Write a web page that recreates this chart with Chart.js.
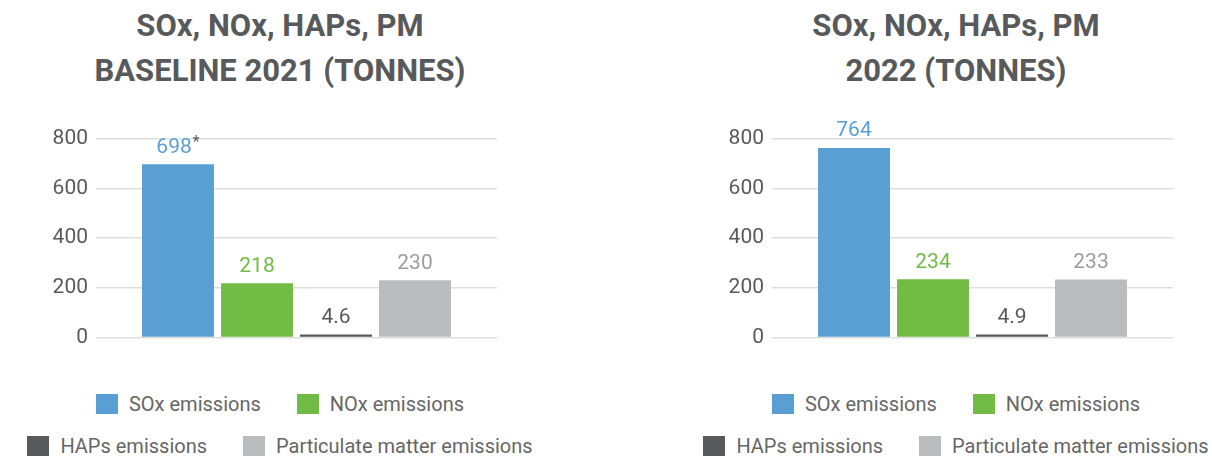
<!DOCTYPE html>
<html>
<head>
<meta charset="utf-8">
<script src="https://cdn.jsdelivr.net/npm/chart.js@4.4.1/dist/chart.umd.min.js"></script>
<style>
  html, body { margin: 0; padding: 0; background: #fff; }
  body { width: 1212px; height: 456px; position: relative; overflow: hidden; font-family: 'Roboto', sans-serif; }
  .panel { position: absolute; top: 0; width: 560px; height: 456px; }
  .title { position: absolute; left: 0; width: 560px; top: 3px; text-align: center; color: #58595B;
           font-weight: bold; font-size: 31px; line-height: 45px; }
  .panel canvas { position: absolute; left: 0; top: 100px; }
  .legend { position: absolute; left: 0; width: 560px; top: 383px; color: #666; font-size: 20px; }
  .legend .row { display: flex; justify-content: center; height: 42px; align-items: center; }
  .legend .item { display: flex; align-items: center; margin: 0 18px; white-space: nowrap; }
  .legend .box { width: 22px; height: 20px; margin-right: 11px; }
</style>
</head>
<body>
<div class="panel" style="left:0">
  <div class="title">SOx, NOx, HAPs, PM<br>BASELINE 2021 (TONNES)</div>
  <canvas id="chart2021" width="510" height="258"></canvas>
  <div class="legend" id="legend2021"></div>
</div>
<div class="panel" style="left:676px">
  <div class="title">SOx, NOx, HAPs, PM<br>2022 (TONNES)</div>
  <canvas id="chart2022" width="510" height="258"></canvas>
  <div class="legend" id="legend2022"></div>
</div>
<script>
const categories = [''];
const seriesNames = ['SOx emissions', 'NOx emissions', 'HAPs emissions', 'Particulate matter emissions'];
const seriesColors = ['#5A9FD4', '#72BB44', '#58595B', '#BBBCBF'];
const labelColors = ['#5A9FD4', '#72BB44', '#58595B', '#9C9DA0'];
const values2021 = [698, 218, 4.6, 230];
const values2022 = [764, 234, 4.9, 233];
const labels2021 = ['698', '218', '4.6', '230'];
const labels2022 = ['764', '234', '4.9', '233'];
const notes2021 = ['*', '', '', ''];
const notes2022 = ['', '', '', ''];
const yTicks = [0, 200, 400, 600, 800];
const legendRows = [[0, 1], [2, 3]];

// draws the value above each bar, with an optional footnote mark
const valueLabels = {
    id: 'valueLabels',
    afterDatasetsDraw(chart, args, opts) {
        const ctx = chart.ctx;
        ctx.save();
        ctx.textBaseline = 'middle';
        ctx.textAlign = 'left';
        chart.data.datasets.forEach((ds, i) => {
            const bar = chart.getDatasetMeta(i).data[0];
            const text = opts.texts[i];
            const note = opts.notes[i];
            ctx.font = '21px Roboto';
            const w = ctx.measureText(text).width;
            ctx.font = '16px Roboto';
            const nw = note ? ctx.measureText(note).width + 1 : 0;
            const x0 = bar.x - (w + nw) / 2;
            const y = bar.y - 17;
            ctx.font = '21px Roboto';
            ctx.fillStyle = labelColors[i];
            ctx.fillText(text, x0, y);
            if (note) {
                ctx.font = '16px Roboto';
                ctx.fillStyle = '#58595B';
                ctx.fillText(note, x0 + w + 1, y - 4);
            }
        });
        ctx.restore();
    }
};

const makeChart = (id, values, texts, notes) => {
    const ctx = document.getElementById(id).getContext('2d');
    return new Chart(ctx, {
        type: 'bar',
        data: {
            labels: categories,
            datasets: seriesNames.map((name, i) => ({
                label: name,
                data: [values[i]],
                backgroundColor: seriesColors[i],
                barPercentage: 0.911,
                categoryPercentage: 0.788,
                minBarLength: 3
            }))
        },
        options: {
            responsive: false,
            animation: false,
            layout: { padding: { top: 39, right: 13, bottom: 8, left: 0 } },
            plugins: {
                legend: { display: false },
                tooltip: { enabled: false },
                valueLabels: { texts: texts, notes: notes }
            },
            scales: {
                x: { display: false },
                y: {
                    min: yTicks[0],
                    max: yTicks[yTicks.length - 1],
                    afterBuildTicks: (scale) => { scale.ticks = yTicks.map(v => ({ value: v })); },
                    afterFit: (scale) => { scale.width = 96; },
                    border: { display: false },
                    grid: { color: '#DEDEDE', lineWidth: 1.5, drawTicks: false },
                    ticks: { color: '#58595B', font: { family: 'Roboto', size: 21 }, padding: 8 }
                }
            }
        },
        plugins: [valueLabels]
    });
};

const makeLegend = (id) => {
    const el = document.getElementById(id);
    legendRows.forEach(row => {
        const r = document.createElement('div');
        r.className = 'row';
        row.forEach(i => {
            const item = document.createElement('div');
            item.className = 'item';
            const box = document.createElement('span');
            box.className = 'box';
            box.style.backgroundColor = seriesColors[i];
            const txt = document.createElement('span');
            txt.textContent = seriesNames[i];
            item.appendChild(box);
            item.appendChild(txt);
            r.appendChild(item);
        });
        el.appendChild(r);
    });
};

makeChart('chart2021', values2021, labels2021, notes2021);
makeChart('chart2022', values2022, labels2022, notes2022);
makeLegend('legend2021');
makeLegend('legend2022');
</script>
</body>
</html>
